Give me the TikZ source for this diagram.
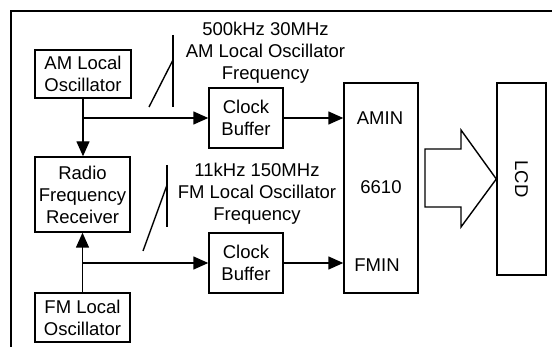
\documentclass[tikz,border=0pt]{standalone}
\usepackage{fontspec}
\setmainfont{Liberation Sans}
\usetikzlibrary{arrows.meta}
\begin{document}
\begin{tikzpicture}[x=1pt,y=-1pt,
  font=\fontsize{18.5}{22}\selectfont,
  line width=1.4pt,
  blk/.style={draw, line width=1.4pt, align=center, inner sep=0pt},
  lbl/.style={align=center, inner sep=0pt},
  arr/.style={-{Triangle[length=15pt,width=13pt]}},
]
\useasboundingbox (0,0) rectangle (552,347);
% frame
\draw (11,347) -- (11,11) -- (552,11);
% blocks
\node[blk, minimum width=96pt, minimum height=48pt] (am) at (83,74) {AM Local\\Oscillator};
\node[blk, minimum width=95pt, minimum height=75pt] (rf) at (82.5,194.5) {Radio\\Frequency\\Receiver};
\node[blk, minimum width=95pt, minimum height=49pt] (fm) at (82.5,317.5) {FM Local\\Oscillator};
\node[blk, minimum width=74pt, minimum height=60pt] (cb1) at (246,118) {Clock\\Buffer};
\node[blk, minimum width=74pt, minimum height=60pt] (cb2) at (246,263) {Clock\\Buffer};
\node[blk, minimum width=74pt, minimum height=210pt] (ic) at (381,188) {};
\node[blk, minimum width=49pt, minimum height=192pt] (lcd) at (521.5,179) {};
\node[lbl, rotate=-90] (lcdt) at (lcd.center) {LCD};
\node[lbl] (amin) at (380,118) {AMIN};
\node[lbl] (ictext) at (381,187) {6610};
\node[lbl] (fmin) at (377,265) {FMIN};
% labels
\node[lbl] (l1) at (265.5,53) {500kHz 30MHz\\AM Local Oscillator\\Frequency};
\node[lbl] (l2) at (257,194) {11kHz 150MHz\\FM Local Oscillator\\Frequency};
% connectors
\coordinate (j1) at (am.south |- cb1.west);
\coordinate (j2) at (fm.north |- cb2.west);
\draw[arr] (am.south) -- (am.south |- rf.north);
\draw[arr] (j1) -- (cb1.west);
\draw[arr] (fm.north) -- (fm.north |- rf.south);
\draw[arr] (j2) -- (cb2.west);
\draw[arr] (cb1.east) -- (ic.west |- cb1.east);
\draw[arr] (cb2.east) -- (ic.west |- cb2.east);
% slash marks
\coordinate (s1a) at (173,35);
\coordinate (s1b) at (173,107);
\coordinate (s1c) at (149,107);
\coordinate (s1d) at (173,60);
\draw (s1a) -- (s1b);
\draw (s1c) -- (s1d);
\coordinate (s2a) at (167,165);
\coordinate (s2b) at (167,227);
\coordinate (s2c) at (143,251);
\coordinate (s2d) at (167,185);
\draw (s2a) -- (s2b);
\draw (s2c) -- (s2d);
% big arrow
\draw[line width=1.4pt, line join=miter] (425,149) -- (461,149) -- (461,130) -- (lcd.west) -- (461,227) -- (461,207) -- (425,207) -- cycle;
\end{tikzpicture}
\end{document}
